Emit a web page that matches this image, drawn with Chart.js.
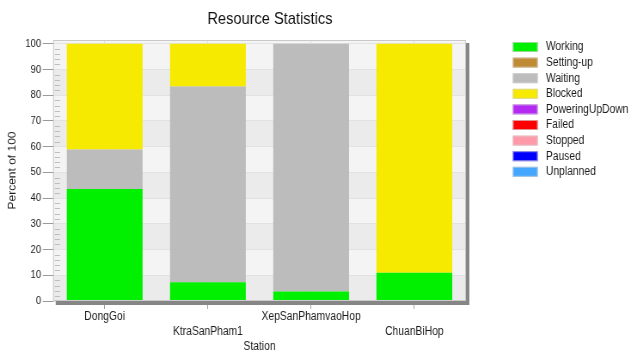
<!DOCTYPE html>
<html>
<head>
<meta charset="utf-8">
<title>Resource Statistics</title>
<script src="https://cdn.jsdelivr.net/npm/chart.js@4/dist/chart.umd.min.js"></script>
<style>
  html, body { margin: 0; padding: 0; background: #ffffff; overflow: hidden; }
</style>
</head>
<body>
<!-- drawn on a wider surface and shown horizontally condensed -->
<canvas id="chart" width="734" height="353" style="display:block;width:631px;height:353px;"></canvas>
<script>
// ---- data -------------------------------------------------------------
const stations = ['DongGoi', 'KtraSanPham1', 'XepSanPhamvaoHop', 'ChuanBiHop'];

const stateNames = ['Working', 'Setting-up', 'Waiting', 'Blocked', 'PoweringUpDown',
                    'Failed', 'Stopped', 'Paused', 'Unplanned'];

// percent of time per station in each state
const working        = [43.6, 7.3, 3.7, 11.0];
const settingUp      = [0, 0, 0, 0];
const waiting        = [15.3, 76.1, 96.3, 0];
const blocked        = [41.1, 16.6, 0, 89.0];
const poweringUpDown = [0, 0, 0, 0];
const failed         = [0, 0, 0, 0];
const stopped        = [0, 0, 0, 0];
const paused         = [0, 0, 0, 0];
const unplanned      = [0, 0, 0, 0];

const yTickValues = [0, 10, 20, 30, 40, 50, 60, 70, 80, 90, 100];

// ---- styling ----------------------------------------------------------
const stateColors = ['#00f000', '#bf8c35', '#bcbcbc', '#f5ea00', '#b42af2',
                     '#ff0000', '#ff9aaa', '#0000ff', '#44a6ff'];
const FONT = '"Liberation Sans", Arial, Helvetica, sans-serif';
const TEXT = '#1c1c1c';
const TITLE_CENTER_X = 314;
const LEGEND_X = 596.5;
const LEGEND_TOP = 47;
const LEGEND_ROW = 15.6;

const seriesValues = [working, settingUp, waiting, blocked, poweringUpDown,
                      failed, stopped, paused, unplanned];

// alternate station names between two label rows
const xLabels = stations.map((s, i) => (i % 2 ? ['', s] : s));

const datasets = stateNames.map((name, i) => ({
  label: name,
  data: seriesValues[i],
  backgroundColor: stateColors[i],
  borderWidth: 0,
  stack: 'state',
  barPercentage: 0.734,
  categoryPercentage: 1.0
}));

// plot background bands, minor ticks, frame with drop shadow and legend
const plotDecor = {
  id: 'plotDecor',
  afterLayout(chart) {
    const t = chart.titleBlock;
    if (t) {
      const w = t.right - t.left;
      t.left = TITLE_CENTER_X - w / 2;
      t.right = TITLE_CENTER_X + w / 2;
    }
  },
  beforeDraw(chart) {
    const { ctx, chartArea: a, scales: { y } } = chart;
    ctx.save();
    ctx.fillStyle = '#f4f4f4';
    ctx.fillRect(a.left, a.top, a.width, a.height);
    ctx.fillStyle = '#ebebeb';
    for (let i = 0; i < yTickValues.length - 1; i += 2) {
      const y0 = y.getPixelForValue(yTickValues[i]);
      const y1 = y.getPixelForValue(yTickValues[i + 1]);
      ctx.fillRect(a.left, y1, a.width, y0 - y1);
    }
    ctx.restore();
  },
  afterDatasetsDraw(chart) {
    const { ctx, chartArea: a, scales: { y } } = chart;
    ctx.save();
    // minor ticks every 2 units along the inner left edge
    ctx.strokeStyle = '#bdbdbd';
    ctx.lineWidth = 1;
    ctx.beginPath();
    for (let v = 0; v <= 100; v += 2) {
      if (v % 10 === 0) continue;
      const py = Math.round(y.getPixelForValue(v)) + 0.5;
      ctx.moveTo(a.left + 2, py);
      ctx.lineTo(a.left + 8, py);
    }
    ctx.stroke();
    // frame
    ctx.strokeStyle = '#c9c9c9';
    ctx.strokeRect(a.left + 0.5, a.top + 0.5, a.width - 1, a.height - 1);
    // drop shadow on right and bottom
    ctx.fillStyle = '#868686';
    ctx.fillRect(a.left + 3, a.bottom, a.width + 1, 4);
    ctx.fillRect(a.right, a.top + 3, 4, a.height + 1);
    ctx.restore();
  },
  afterDraw(chart) {
    const { ctx } = chart;
    ctx.save();
    ctx.font = '12px ' + FONT;
    ctx.textBaseline = 'middle';
    ctx.textAlign = 'left';
    chart.data.datasets.forEach((ds, i) => {
      const cy = LEGEND_TOP + i * LEGEND_ROW;
      ctx.fillStyle = ds.backgroundColor;
      ctx.fillRect(LEGEND_X, cy - 5, 29, 10);
      ctx.strokeStyle = 'rgba(210,210,210,0.7)';
      ctx.strokeRect(LEGEND_X + 0.5, cy - 4.5, 28, 9);
      ctx.fillStyle = TEXT;
      ctx.fillText(ds.label, LEGEND_X + 38.5, cy);
    });
    ctx.restore();
  }
};

new Chart(document.getElementById('chart'), {
  type: 'bar',
  data: { labels: xLabels, datasets },
  plugins: [plotDecor],
  options: {
    responsive: false,
    animation: false,
    devicePixelRatio: 1,
    layout: { padding: { left: 0, right: 192, top: 0, bottom: 0 } },
    plugins: {
      legend: { display: false },
      tooltip: { enabled: false },
      title: {
        display: true,
        text: 'Resource Statistics',
        color: '#111111',
        font: { family: FONT, size: 17, weight: 'normal', lineHeight: 1.2 },
        padding: { top: 9.3, bottom: 10.3 }
      }
    },
    scales: {
      x: {
        stacked: true,
        offset: true,
        border: { display: false },
        grid: { offset: false, color: '#dedede', tickColor: '#a0a0a0', tickLength: 8 },
        ticks: {
          color: TEXT,
          padding: 0,
          maxRotation: 0,
          autoSkip: false,
          font: { family: FONT, size: 12, lineHeight: 1.25 }
        },
        title: {
          display: true,
          text: 'Station',
          color: TEXT,
          font: { family: FONT, size: 12, lineHeight: 1 },
          padding: { top: 2, bottom: 0 }
        }
      },
      y: {
        stacked: true,
        min: 0,
        max: 101.5,
        border: { display: false },
        afterBuildTicks(scale) {
          scale.ticks = yTickValues.map(v => ({ value: v }));
        },
        grid: { color: '#e2e2e2', tickColor: '#9a9a9a', tickLength: 12 },
        ticks: {
          color: TEXT,
          padding: 2,
          font: { family: FONT, size: 11 }
        },
        title: {
          display: true,
          text: 'Percent of 100',
          color: TEXT,
          font: { family: FONT, size: 12, lineHeight: 1.2 },
          padding: { top: 7, bottom: 6 }
        }
      }
    }
  }
});
</script>
</body>
</html>
